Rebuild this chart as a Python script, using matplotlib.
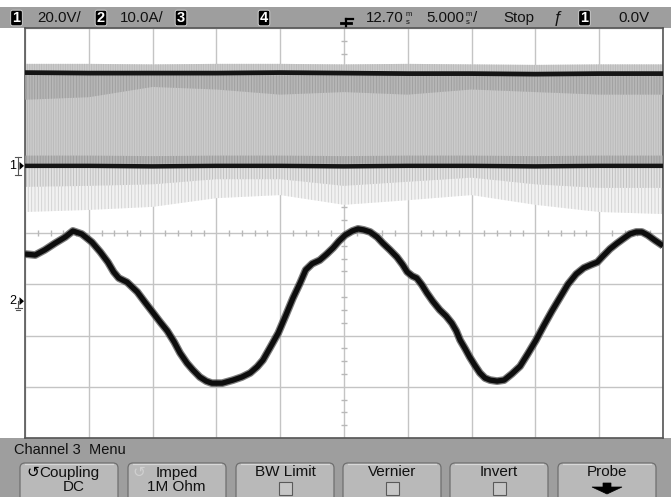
import matplotlib
matplotlib.use("Agg")
import matplotlib.pyplot as plt
from matplotlib.patches import Rectangle, FancyBboxPatch, Polygon

plt.rcParams['font.family'] = ['Liberation Sans Narrow', 'Liberation Sans', 'DejaVu Sans']
plt.rcParams['hatch.linewidth'] = 0.6

# ---------------- data (screen divisions: x 0..10, y -4..4) ----------------
ch1_x = [0, 1, 2, 3, 4, 5, 6, 7, 8, 9, 10]
ch1_top = [3.13, 3.12, 3.12, 3.12, 3.13, 3.12, 3.11, 3.11, 3.10, 3.11, 3.11]
ch1_top_fuzz = [3.30, 3.30, 3.29, 3.30, 3.30, 3.29, 3.30, 3.29, 3.28, 3.29, 3.29]
ch1_top_dark = [2.60, 2.65, 2.85, 2.80, 2.70, 2.75, 2.70, 2.80, 2.75, 2.70, 2.70]
ch1_bottom = [1.31, 1.31, 1.30, 1.31, 1.31, 1.30, 1.31, 1.31, 1.30, 1.31, 1.31]
ch1_spike_dense = [0.90, 0.92, 0.95, 1.05, 1.05, 0.92, 1.00, 1.08, 0.95, 0.88, 0.88]
ch1_spike_low = [0.41, 0.45, 0.51, 0.68, 0.74, 0.55, 0.64, 0.74, 0.55, 0.41, 0.37]

ch2_x = [0, 0.16, 0.31, 0.47, 0.63, 0.75, 0.89, 1.05, 1.18, 1.30,
         1.39, 1.47, 1.60, 1.76, 1.88, 2.01, 2.12, 2.23, 2.34, 2.43,
         2.54, 2.63, 2.74, 2.84, 2.93, 3.09, 3.26, 3.40, 3.53, 3.64,
         3.73, 3.84, 3.97, 4.09, 4.20, 4.31, 4.40, 4.50, 4.62, 4.73,
         4.83, 4.92, 5.02, 5.13, 5.22, 5.31, 5.41, 5.52, 5.61, 5.72,
         5.83, 5.92, 5.99, 6.07, 6.14, 6.22, 6.30, 6.39, 6.50, 6.60,
         6.69, 6.76, 6.82, 6.90, 6.97, 7.05, 7.13, 7.21, 7.29, 7.40,
         7.51, 7.63, 7.76, 7.88, 8.01, 8.13, 8.26, 8.39, 8.51, 8.64,
         8.76, 8.87, 8.97, 9.06, 9.17, 9.28, 9.39, 9.48, 9.58, 9.67,
         9.76, 9.87, 10.0]
ch2_y = [-0.41, -0.43, -0.33, -0.20, -0.08, 0.04, -0.02, -0.18, -0.37, -0.57,
         -0.76, -0.88, -0.96, -1.15, -1.35, -1.56, -1.74, -1.91, -2.13, -2.34,
         -2.54, -2.67, -2.81, -2.89, -2.93, -2.93, -2.87, -2.81, -2.73, -2.61,
         -2.48, -2.24, -1.95, -1.60, -1.27, -0.98, -0.72, -0.60, -0.53, -0.41,
         -0.29, -0.16, -0.04, 0.04, 0.08, 0.06, 0.02, -0.08, -0.20, -0.33,
         -0.47, -0.62, -0.76, -0.84, -0.88, -1.01, -1.17, -1.33, -1.50, -1.62,
         -1.76, -1.91, -2.09, -2.26, -2.42, -2.58, -2.73, -2.83, -2.87, -2.89,
         -2.87, -2.75, -2.60, -2.36, -2.09, -1.81, -1.52, -1.25, -1.00, -0.80,
         -0.68, -0.62, -0.57, -0.45, -0.31, -0.20, -0.10, -0.02, 0.02, 0.02,
         -0.04, -0.14, -0.25]

ch1_ground_div = 1.31
ch2_ground_div = -1.35

status_labels = ["20.0V/", "10.0A/", "12.70", "5.000", "Stop", "0.0V"]
menu_title = "Channel 3  Menu"
button_top = ["Coupling", "Imped", "BW Limit", "Vernier", "Invert", "Probe"]
button_bottom = ["DC", "1M Ohm", "", "", "", ""]

# ---------------- figure ----------------
W, H = 671, 497
fig = plt.figure(figsize=(W / 100, H / 100), dpi=100)
fig.patch.set_facecolor('white')

bg = fig.add_axes([0, 0, 1, 1])
bg.set_xlim(0, W)
bg.set_ylim(H, 0)
bg.axis('off')

GX0, GX1, GY0, GY1 = 25, 663, 28, 438
BAR = '#9e9e9e'

bg.add_patch(Rectangle((0, 7), W, GY0 - 7, color=BAR, lw=0))
bg.add_patch(Rectangle((0, GY1), W, H - GY1, color=BAR, lw=0))

ax = fig.add_axes([GX0 / W, (H - GY1) / H, (GX1 - GX0) / W, (GY1 - GY0) / H])
ax.set_xlim(0, 10)
ax.set_ylim(-4, 4)
ax.set_facecolor('white')
ax.set_xticks(range(11))
ax.set_yticks(range(-4, 5))
ax.tick_params(length=0, labelbottom=False, labelleft=False)
ax.grid(True, color='#c4c4c4', lw=1.0)
ax.set_axisbelow(True)
for s in ax.spines.values():
    s.set_color('#555555')
    s.set_linewidth(1.2)

minor_x = [i / 5 for i in range(51) if i % 5]
minor_y = [j / 4 - 4 for j in range(33) if j % 4]
ax.vlines(minor_x, -0.06, 0.06, color='#b8b8b8', lw=1.0, zorder=1)
ax.hlines(minor_y, 4.95, 5.05, color='#b8b8b8', lw=1.0, zorder=1)

# ---------------- channel 1 (noisy switching band) ----------------
ax.fill_between(ch1_x, ch1_spike_low, ch1_bottom, facecolor='#f2f2f2',
                edgecolor='#d0d0d0', hatch='|||||', lw=0, zorder=2)
ax.fill_between(ch1_x, ch1_spike_dense, ch1_bottom, facecolor='#e2e2e2',
                edgecolor='#bdbdbd', hatch='||||||', lw=0, zorder=2)
ax.fill_between(ch1_x, ch1_bottom, ch1_top_fuzz, facecolor='#cbcbcb',
                edgecolor='#b8b8b8', hatch='|||||||', lw=0, zorder=2)
ax.fill_between(ch1_x, ch1_top_dark, ch1_top, facecolor='#b0b0b0',
                edgecolor='#939393', hatch='||||||', lw=0, alpha=0.7, zorder=3)
ax.fill_between(ch1_x, [b + 0.2 for b in ch1_bottom], ch1_bottom,
                facecolor='#aaaaaa', edgecolor='#8a8a8a', hatch='||||||',
                lw=0, alpha=0.6, zorder=3)
ax.plot(ch1_x, ch1_top, color='#151515', lw=3.4, zorder=4)
ax.plot(ch1_x, ch1_bottom, color='#151515', lw=3.2, zorder=4)

# ---------------- channel 2 (current) ----------------
ax.plot(ch2_x, ch2_y, color='#444444', lw=5.6, alpha=0.7,
        solid_capstyle='butt', solid_joinstyle='round', zorder=5)
ax.plot(ch2_x, ch2_y, color='#0d0d0d', lw=3.8,
        solid_capstyle='butt', solid_joinstyle='round', zorder=6)

# ---------------- status bar text ----------------
def numbox(xc, label):
    bg.add_patch(FancyBboxPatch((xc - 4.5, 11.5), 9, 13,
                                boxstyle='round,pad=1.3,rounding_size=2',
                                fc='black', ec='#dddddd', lw=0.6))
    bg.text(xc, 18.3, label, color='white', fontsize=10.5, fontweight='bold',
            ha='center', va='center')


def ms_suffix(txt):
    bg.annotate("m", xy=(1, 0.5), xycoords=txt, xytext=(1, 2.5),
                textcoords='offset points', fontsize=5.5, va='center',
                ha='left', color='#111111')
    bg.annotate("s", xy=(1, 0.5), xycoords=txt, xytext=(1.4, -3.0),
                textcoords='offset points', fontsize=5.5, va='center',
                ha='left', color='#111111')


TXT = dict(fontsize=10.8, color='#111111', va='center')
numbox(16.5, "1")
bg.text(37, 18.3, status_labels[0], ha='left', **TXT)
numbox(101, "2")
bg.text(120, 18.3, status_labels[1], ha='left', **TXT)
numbox(181, "3")
numbox(264, "4")
t1 = bg.text(366, 18.3, status_labels[2], ha='left', **TXT)
ms_suffix(t1)
t2 = bg.text(426, 18.3, status_labels[3], ha='left', **TXT)
ms_suffix(t2)
bg.annotate("/", xy=(1, 0.5), xycoords=t2, xytext=(6.5, 0),
            textcoords='offset points', ha='left', va='center',
            fontsize=10.8, color='#111111')
bg.text(503, 18.3, status_labels[4], ha='left', **TXT)
bg.text(557, 18.5, "ƒ", ha='center', fontsize=12, color='#111111', va='center',
        style='italic')
numbox(584.5, "1")
bg.text(618, 18.3, status_labels[5], ha='left', **TXT)

bg.plot([346, 346], [19, 27], color='black', lw=1.6)
bg.plot([346, 353], [19, 19], color='black', lw=1.6)
bg.plot([341, 351], [22.5, 22.5], color='black', lw=2.0)
bg.add_patch(Polygon([[340, 28], [350, 28], [345, 34]], closed=True,
                     fc='white', ec='#999999', lw=0.8))
bg.add_patch(Polygon([[177, 28], [187, 28], [182, 33]], closed=True,
                     fc='#8c8c8c', ec='#8c8c8c', lw=0.5))

# ---------------- left ground markers ----------------
y1 = H - ax.transData.transform((0, ch1_ground_div))[1]
bg.text(12.5, y1, "1", fontsize=9, va='center', ha='center', color='black')
bg.add_patch(Polygon([[19.5, y1 - 4], [19.5, y1 + 4], [24, y1]], closed=True,
                     fc='black', ec='none'))
bg.plot([18, 18], [y1 - 9, y1 + 9], color='#555555', lw=0.8)
bg.plot([15, 21], [y1 - 9, y1 - 9], color='#555555', lw=0.8)
bg.plot([15, 21], [y1 + 9, y1 + 9], color='#555555', lw=0.8)

y2 = H - ax.transData.transform((0, ch2_ground_div))[1]
bg.text(12.5, y2 - 1, "2", fontsize=9, va='center', ha='center', color='black')
bg.add_patch(Polygon([[19.5, y2 - 5], [19.5, y2 + 3], [24, y2 - 1]], closed=True,
                     fc='black', ec='none'))
bg.plot([18, 18], [y2 - 1, y2 + 6], color='#555555', lw=0.8)
bg.plot([14.5, 21.5], [y2 + 6, y2 + 6], color='#555555', lw=0.8)
bg.plot([16, 20], [y2 + 8, y2 + 8], color='#555555', lw=0.8)

# ---------------- menu ----------------
bg.text(14, 449.5, menu_title, fontsize=10.5, ha='left', va='center', color='#111111')

bx = [20, 128, 236, 343, 450, 558]
BW = 98
for i, x0 in enumerate(bx):
    bg.add_patch(FancyBboxPatch((x0, 463), BW, 40,
                                boxstyle='round,pad=0,rounding_size=5',
                                fc='#b9b9b9', ec='#6f6f6f', lw=0.9))
    bg.plot([x0 + 5, x0 + BW - 5], [464, 464], color='#d8d8d8', lw=0.9)

bg.text(33, 472.5, "↺", fontsize=11, ha='center', va='center', color='black',
        family='DejaVu Sans')
bg.text(69, 472.5, button_top[0], fontsize=11, ha='center', va='center', color='#111111')
bg.text(74, 487, button_bottom[0], fontsize=11, ha='center', va='center', color='#111111')
bg.text(139, 472.5, "↺", fontsize=11, ha='center', va='center', color='#d0d0d0',
        family='DejaVu Sans')
bg.text(177, 472.5, button_top[1], fontsize=11, ha='center', va='center', color='#111111')
bg.text(176, 487, button_bottom[1], fontsize=11, ha='center', va='center', color='#111111')
for i in (2, 3, 4):
    xc = bx[i] + BW / 2
    bg.text(xc, 472.5, button_top[i], fontsize=11, ha='center', va='center', color='#111111')
    bg.add_patch(Rectangle((xc - 6.5, 482), 13, 13, fc='#c6c6c6', ec='#5a5a5a', lw=0.8))
xc = bx[5] + BW / 2
bg.text(xc, 472.5, button_top[5], fontsize=11, ha='center', va='center', color='#111111')
bg.add_patch(Polygon([[xc - 4, 483], [xc + 4, 483], [xc + 4, 487], [xc + 15, 487],
                      [xc, 494], [xc - 15, 487], [xc - 4, 487]], closed=True,
                     fc='black', ec='black', lw=0.5))

fig.savefig('out.png', dpi=100, facecolor='white')
